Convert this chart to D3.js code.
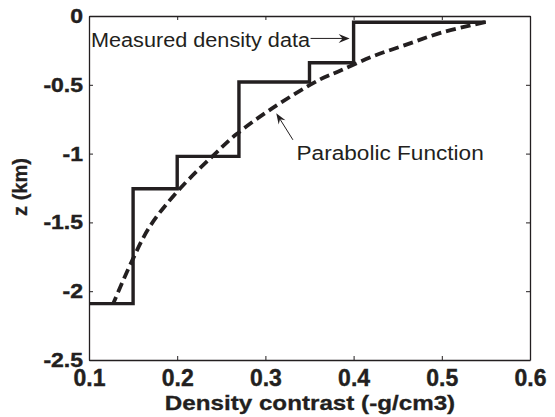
<!DOCTYPE html>
<html><head><meta charset="utf-8">
<script src="https://cdn.jsdelivr.net/npm/d3@7"></script>
<style>body{margin:0;background:#fff}svg{display:block}text{font-family:"Liberation Sans",Arial,sans-serif;fill:#231f20}</style>
</head><body><svg id="c" width="555" height="417"></svg>
<script>
// Measured density data (step profile): vertices
const stepDensity = [0.10, 0.15, 0.15, 0.20, 0.20, 0.27, 0.27, 0.35, 0.35, 0.40, 0.40, 0.55];
const stepDepth   = [-2.09, -2.09, -1.255, -1.255, -1.02, -1.02, -0.48, -0.48, -0.34, -0.34, -0.045, -0.045];
// Parabolic function
const paraDensity = [0.549, 0.50, 0.459, 0.421, 0.384, 0.361, 0.308, 0.267, 0.248, 0.201, 0.169, 0.148, 0.1275];
const paraDepth   = [-0.045, -0.12, -0.21, -0.295, -0.40, -0.464, -0.67, -0.86, -0.97, -1.27, -1.53, -1.79, -2.09];
const xTicks = [0.1, 0.2, 0.3, 0.4, 0.5, 0.6];
const yTicks = [0, -0.5, -1, -1.5, -2, -2.5];
const xTickLabels = ["0.1", "0.2", "0.3", "0.4", "0.5", "0.6"];
const yTickLabels = ["0", "-0.5", "-1", "-1.5", "-2", "-2.5"];

const svg = d3.select("#c");
const ink = "#231f20";
const x = d3.scaleLinear().domain([0.1, 0.6]).range([89, 530]);
const y = d3.scaleLinear().domain([0, -2.5]).range([16, 360]);

function stretch(sel, k) {
  sel.each(function () {
    const w = this.getComputedTextLength();
    d3.select(this).attr("textLength", w * k).attr("lengthAdjust", "spacingAndGlyphs");
  });
}

// axes with inward ticks on all four sides
const gB = svg.append("g").attr("transform", `translate(0,${y(-2.5)})`)
  .call(d3.axisBottom(x).tickValues(xTicks).tickSizeInner(-4).tickSizeOuter(0).tickPadding(10)
    .tickFormat((d, i) => xTickLabels[i]));
const gT = svg.append("g").attr("transform", `translate(0,${y(0)})`)
  .call(d3.axisTop(x).tickValues(xTicks).tickSizeInner(-4).tickSizeOuter(0).tickFormat(""));
const gL = svg.append("g").attr("transform", `translate(${x(0.1)},0)`)
  .call(d3.axisLeft(y).tickValues(yTicks).tickSizeInner(-4).tickSizeOuter(0).tickPadding(6)
    .tickFormat((d, i) => yTickLabels[i]));
const gR = svg.append("g").attr("transform", `translate(${x(0.6)},0)`)
  .call(d3.axisRight(y).tickValues(yTicks).tickSizeInner(-4).tickSizeOuter(0).tickFormat(""));
[gB, gT, gL, gR].forEach(g => {
  g.select(".domain").attr("stroke", ink).attr("stroke-width", 1.3);
  g.selectAll(".tick line").attr("stroke", ink).attr("stroke-width", 1);
});
gB.selectAll("text").attr("font-size", 23).attr("font-weight", "bold").attr("fill", ink)
  .attr("stroke", ink).attr("stroke-width", 0.4)
  .attr("font-family", "Liberation Sans, Arial, sans-serif");
gL.selectAll("text").attr("font-size", 20).attr("font-weight", "bold").attr("fill", ink)
  .attr("stroke", ink).attr("stroke-width", 0.4)
  .attr("font-family", "Liberation Sans, Arial, sans-serif").call(stretch, 1.15);

// lines
const line = d3.line().x(d => x(d[0])).y(d => y(d[1]));
svg.append("path").datum(stepDensity.map((d, i) => [d, stepDepth[i]]))
  .attr("d", line).attr("fill", "none").attr("stroke", ink).attr("stroke-width", 3.4)
  .attr("stroke-linejoin", "miter");
svg.append("path").datum(paraDensity.map((d, i) => [d, paraDepth[i]]))
  .attr("d", line.curve(d3.curveCatmullRom)).attr("fill", "none").attr("stroke", ink)
  .attr("stroke-width", 3.8).attr("stroke-dasharray", "10,5");

// annotations
function arrow(x0, y0, x1, y1, len, wid) {
  const ax = x(x0), ay = y(y0), bx = x(x1), by = y(y1);
  const ang = Math.atan2(by - ay, bx - ax);
  const ux = Math.cos(ang), uy = Math.sin(ang), px = -uy, py = ux;
  svg.append("line").attr("x1", ax).attr("y1", ay).attr("x2", bx - ux * len * 0.6).attr("y2", by - uy * len * 0.6)
    .attr("stroke", ink).attr("stroke-width", 1);
  const p = [[bx, by], [bx - ux * len + px * wid / 2, by - uy * len + py * wid / 2],
             [bx - ux * len * 0.65, by - uy * len * 0.65], [bx - ux * len - px * wid / 2, by - uy * len - py * wid / 2]];
  svg.append("path").attr("d", "M" + p.map(q => q.join(",")).join("L") + "Z").attr("fill", ink);
}
svg.append("text").attr("x", x(0.1023)).attr("y", y(-0.225)).attr("font-size", 19.5)
  .text("Measured density data").call(stretch, 1.11);
arrow(0.3512, -0.163, 0.3955, -0.163, 11, 9);
svg.append("text").attr("x", x(0.3353)).attr("y", y(-1.045)).attr("font-size", 20)
  .text("Parabolic Function").call(stretch, 1.13);
arrow(0.3312, -0.90, 0.3123, -0.706, 11, 8);

// axis titles
svg.append("text").attr("x", 310).attr("y", 410).attr("text-anchor", "middle")
  .attr("font-size", 20.5).attr("font-weight", "bold").attr("stroke", ink).attr("stroke-width", 0.3)
  .text("Density contrast (-g/cm3)").call(stretch, 1.18);
svg.append("text").attr("transform", "translate(27,187) rotate(-90)").attr("text-anchor", "middle")
  .attr("font-size", 20).attr("font-weight", "bold").attr("stroke", ink).attr("stroke-width", 0.3)
  .text("z (km)");
</script></body></html>
